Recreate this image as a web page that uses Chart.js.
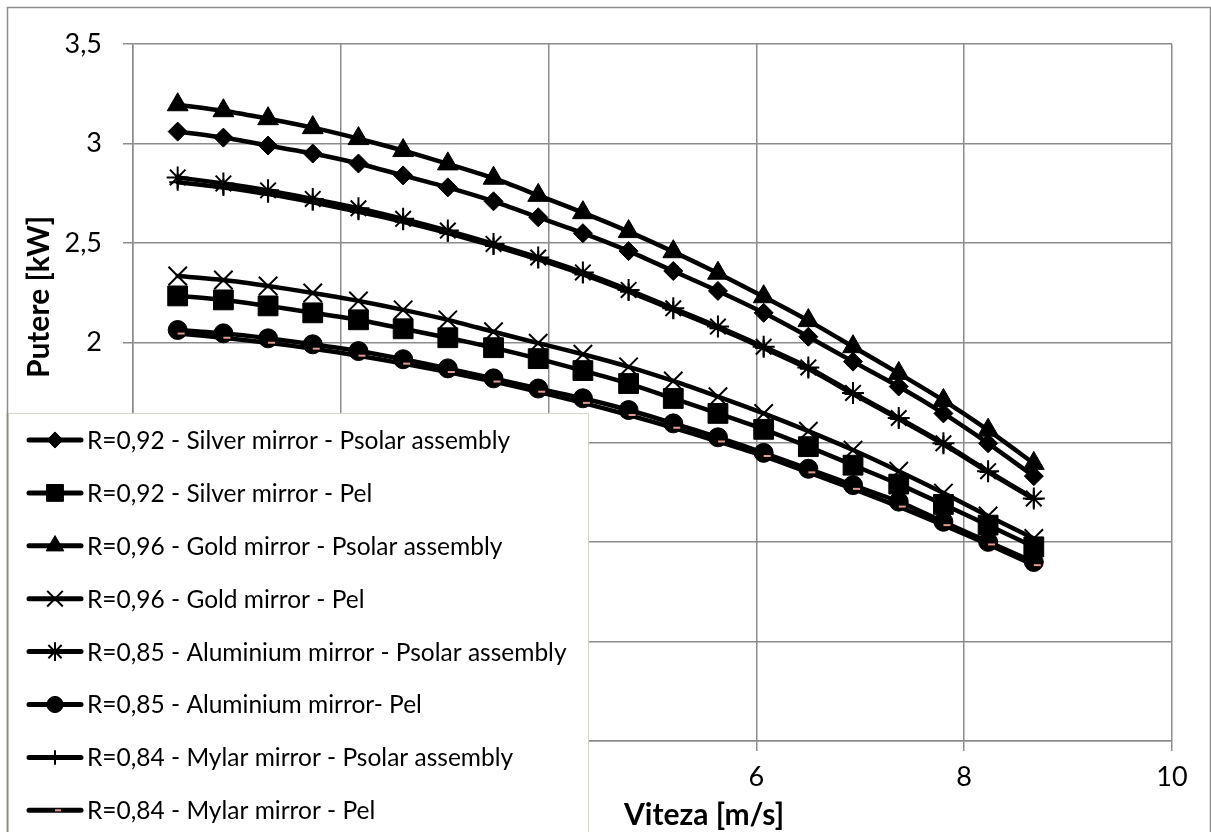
<!DOCTYPE html>
<html>
<head>
<meta charset="utf-8">
<script src="https://cdn.jsdelivr.net/npm/chart.js@4.4.1/dist/chart.umd.min.js"></script>
<style>
html, body { margin: 0; padding: 0; background: #fff; }
#wrap { width: 1211px; height: 832px; }
</style>
</head>
<body>
<div id="wrap"><canvas id="powerChart" width="1211" height="832"></canvas></div>
<script>
// viteza [m/s]
var speed = [0.43, 0.87, 1.30, 1.73, 2.17, 2.60, 3.03, 3.47, 3.90, 4.33, 4.77, 5.20, 5.63, 6.07, 6.50, 6.93, 7.37, 7.80, 8.23, 8.67];

// putere [kW]
var silverPsolar = [3.06, 3.03, 2.99, 2.95, 2.90, 2.84, 2.78, 2.71, 2.63, 2.55, 2.46, 2.36, 2.26, 2.15, 2.03, 1.905, 1.78, 1.645, 1.495, 1.33];
var silverPel    = [2.235, 2.215, 2.185, 2.15, 2.115, 2.07, 2.025, 1.975, 1.92, 1.86, 1.795, 1.72, 1.645, 1.565, 1.478, 1.385, 1.29, 1.188, 1.084, 0.975];
var goldPsolar   = [3.195, 3.165, 3.125, 3.08, 3.025, 2.965, 2.898, 2.826, 2.74, 2.653, 2.558, 2.457, 2.349, 2.231, 2.111, 1.98, 1.846, 1.71, 1.561, 1.394];
var goldPel      = [2.335, 2.315, 2.285, 2.25, 2.21, 2.165, 2.115, 2.055, 1.998, 1.942, 1.879, 1.808, 1.729, 1.645, 1.556, 1.461, 1.355, 1.245, 1.13, 1.017];
var aluPsolar    = [2.83, 2.80, 2.765, 2.722, 2.675, 2.622, 2.563, 2.496, 2.428, 2.353, 2.265, 2.173, 2.081, 1.98, 1.876, 1.748, 1.622, 1.495, 1.355, 1.218];
var aluPel       = [2.064, 2.047, 2.022, 1.992, 1.958, 1.917, 1.871, 1.821, 1.77, 1.721, 1.662, 1.595, 1.525, 1.447, 1.367, 1.285, 1.202, 1.101, 1.0, 0.899];
var mylarPsolar  = [2.806, 2.779, 2.746, 2.705, 2.658, 2.607, 2.55, 2.486, 2.418, 2.343, 2.256, 2.165, 2.073, 1.973, 1.869, 1.742, 1.617, 1.49, 1.351, 1.215];
var mylarPel     = [2.046, 2.025, 2.0, 1.97, 1.935, 1.895, 1.853, 1.805, 1.754, 1.698, 1.637, 1.573, 1.504, 1.431, 1.349, 1.266, 1.177, 1.084, 0.987, 0.883];

var seriesNames = [
    "R=0,92 - Silver mirror - Psolar assembly",
    "R=0,92 - Silver mirror - Pel",
    "R=0,96 - Gold mirror - Psolar assembly",
    "R=0,96 - Gold mirror - Pel",
    "R=0,85 - Aluminium mirror - Psolar assembly",
    "R=0,85 - Aluminium mirror- Pel",
    "R=0,84 - Mylar mirror - Psolar assembly",
    "R=0,84 - Mylar mirror - Pel"
];
var seriesValues = [silverPsolar, silverPel, goldPsolar, goldPel, aluPsolar, aluPel, mylarPsolar, mylarPel];

var markerStyle = ['rectRot', 'rect', 'triangle', 'crossRot', 'star', 'circle', 'cross', 'dash'];
var markerRadius = [9.5, 14, 12, 13, 11, 9.5, 8.5, 7];
var markerLine = [1, 1, 1, 2, 2, 1, 2, 2];
var markerColor = ['#000', '#000', '#000', '#000', '#000', '#000', '#000', '#e29a92'];

var fontName = "Lato, 'Open Sans', sans-serif";
var gridGray = '#8c8c8c';

var datasets = [];
for (var i = 0; i < seriesValues.length; i++) {
    var pts = [];
    for (var j = 0; j < speed.length; j++) {
        pts.push({ x: speed[j], y: seriesValues[i][j] });
    }
    datasets.push({
        label: seriesNames[i],
        data: pts,
        order: -i,
        borderColor: '#000',
        borderWidth: 4.5,
        borderCapStyle: 'round',
        tension: 0.2,
        pointStyle: markerStyle[i],
        pointRadius: markerRadius[i],
        pointBorderWidth: markerLine[i],
        pointBackgroundColor: markerColor[i],
        pointBorderColor: markerColor[i]
    });
}

// frame, axis titles and the legend box laid over the plot
var chartFrame = {
    id: 'chartFrame',
    beforeDraw: function(chart) {
        var ctx = chart.ctx;
        ctx.save();
        ctx.fillStyle = '#fff';
        ctx.fillRect(0, 0, chart.width, chart.height);
        ctx.restore();
    },
    afterDraw: function(chart) {
        var ctx = chart.ctx;
        ctx.save();

        // outer border
        ctx.strokeStyle = gridGray;
        ctx.lineWidth = 1.5;
        ctx.strokeRect(7.5, 7.5, 1203, 840);

        // axis titles
        ctx.fillStyle = '#000';
        ctx.font = "bold 30px " + fontName;
        ctx.textAlign = 'center';
        ctx.textBaseline = 'middle';
        ctx.fillText('Viteza [m/s]', 704, 815);
        ctx.save();
        ctx.translate(39, 297);
        ctx.rotate(-Math.PI / 2);
        ctx.fillText('Putere [kW]', 0, 0);
        ctx.restore();

        // legend
        ctx.fillStyle = '#fff';
        ctx.fillRect(8, 413, 580, 430);
        ctx.strokeStyle = '#d8d4c8';
        ctx.lineWidth = 1;
        ctx.strokeRect(8.5, 413.5, 580, 430);
        ctx.strokeStyle = gridGray;
        ctx.lineWidth = 1.5;
        ctx.beginPath();
        ctx.moveTo(7.5, 413);
        ctx.lineTo(7.5, 832);
        ctx.stroke();

        ctx.font = "24.5px " + fontName;
        ctx.textAlign = 'left';
        ctx.textBaseline = 'middle';
        for (var k = 0; k < seriesNames.length; k++) {
            var y = 440 + k * 52.9;
            ctx.strokeStyle = '#000';
            ctx.lineWidth = 5;
            ctx.lineCap = 'round';
            ctx.beginPath();
            ctx.moveTo(29, y);
            ctx.lineTo(81, y);
            ctx.stroke();
            ctx.fillStyle = markerColor[k];
            ctx.strokeStyle = markerColor[k];
            ctx.lineWidth = markerLine[k];
            ctx.lineCap = 'butt';
            Chart.helpers.drawPoint(ctx, {
                pointStyle: markerStyle[k],
                rotation: 0,
                radius: markerRadius[k] * 0.85,
                borderWidth: markerLine[k]
            }, 55, y);
            ctx.fillStyle = '#000';
            ctx.fillText(seriesNames[k], 87, y + 1);
        }
        ctx.restore();
    }
};

var ctx = document.getElementById('powerChart');
var powerChart = new Chart(ctx, {
    type: 'line',
    data: { datasets: datasets },
    plugins: [chartFrame],
    options: {
        responsive: false,
        animation: false,
        layout: { padding: { top: 44, right: 39, left: 0, bottom: 0 } },
        plugins: {
            legend: { display: false },
            tooltip: { enabled: false }
        },
        scales: {
            x: {
                type: 'linear',
                min: 0,
                max: 10,
                afterFit: function(scale) { scale.height = 91; },
                ticks: {
                    stepSize: 2,
                    padding: 10,
                    color: '#000',
                    font: { family: fontName, size: 27 }
                },
                grid: { color: gridGray, lineWidth: 1.5, tickLength: 10 },
                border: { color: gridGray, width: 1.5 }
            },
            y: {
                type: 'linear',
                min: 0,
                max: 3.5,
                afterFit: function(scale) { scale.width = 133; },
                ticks: {
                    stepSize: 0.5,
                    padding: 21,
                    color: '#000',
                    font: { family: fontName, size: 27 },
                    callback: function(v) { return String(v).replace('.', ','); }
                },
                grid: { color: gridGray, lineWidth: 1.5, tickLength: 10 },
                border: { color: gridGray, width: 1.5 }
            }
        }
    }
});
</script>
</body>
</html>
